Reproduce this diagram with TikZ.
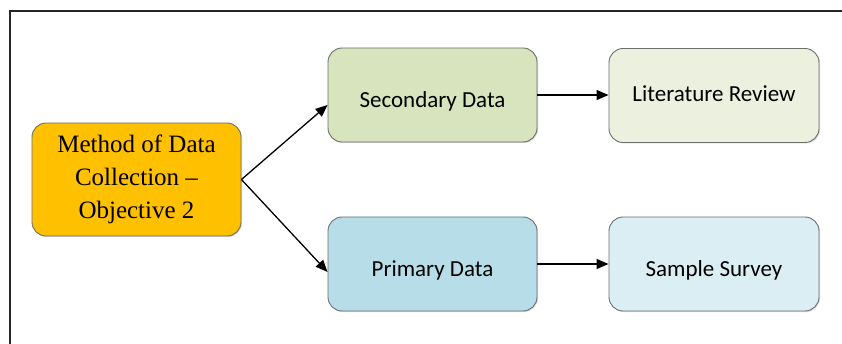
\documentclass[tikz,border=0pt]{standalone}
\usepackage{fontspec}
\setmainfont{Liberation Serif}
\newfontfamily\bodysans{Carlito}
\usetikzlibrary{arrows.meta,shadows}

\definecolor{methodfill}{HTML}{FFC000}
\definecolor{secfill}{HTML}{D7E4BD}
\definecolor{litfill}{HTML}{EBF1DE}
\definecolor{primfill}{HTML}{B7DEE8}
\definecolor{survfill}{HTML}{DBEEF3}
\definecolor{boxline}{HTML}{6E6E6E}

\tikzset{
  box/.style={draw=boxline, line width=0.9pt, rounded corners=14pt,
    minimum width=209pt, minimum height=94pt, align=center, inner sep=0pt,
    drop shadow={shadow xshift=1pt, shadow yshift=-1pt, opacity=0.25, fill=black!60}},
  sanslabel/.style={font=\bodysans\fontsize{23pt}{27pt}\selectfont,
    text height=16pt, text depth=5pt},
  link/.style={line width=1.3pt, -{Triangle[length=12pt,width=10pt]}},
  frameline/.style={line width=1.5pt, draw=black!85}
}

\begin{document}
\begin{tikzpicture}[x=1pt, y=-1pt]
  \useasboundingbox (0,0) rectangle (842,344);
  % outer frame (top and left edges)
  \draw[frameline] (842,11) -- (10,11) -- (10,344);

  % nodes
  \node[box, fill=methodfill, minimum height=113pt,
        font=\fontsize{25pt}{33pt}\selectfont] (method) at (136.5,179.5)
        {Method of Data\\Collection --\\Objective 2};
  \node[box, sanslabel, fill=secfill] (secondary) at (432.5,95) {\raisebox{-7.5pt}{Secondary Data}};
  \node[box, sanslabel, fill=primfill] (primary) at (432.5,264) {\raisebox{-6.5pt}{Primary Data}};
  \node[box, sanslabel, fill=litfill, minimum width=210pt] (literature) at (714,95.5) {\raisebox{-1pt}{Literature Review}};
  \node[box, sanslabel, fill=survfill, minimum width=210pt] (survey) at (714,264) {\raisebox{-6.5pt}{Sample Survey}};

  % connectors
  \draw[link] (method.east) -- ([yshift=-10pt]secondary.west);
  \draw[link] (method.east) -- ([yshift=-8pt]primary.west);
  \draw[link] (secondary.east) -- (literature.west |- secondary.east);
  \draw[link] (primary.east) -- (survey.west |- primary.east);
\end{tikzpicture}
\end{document}
